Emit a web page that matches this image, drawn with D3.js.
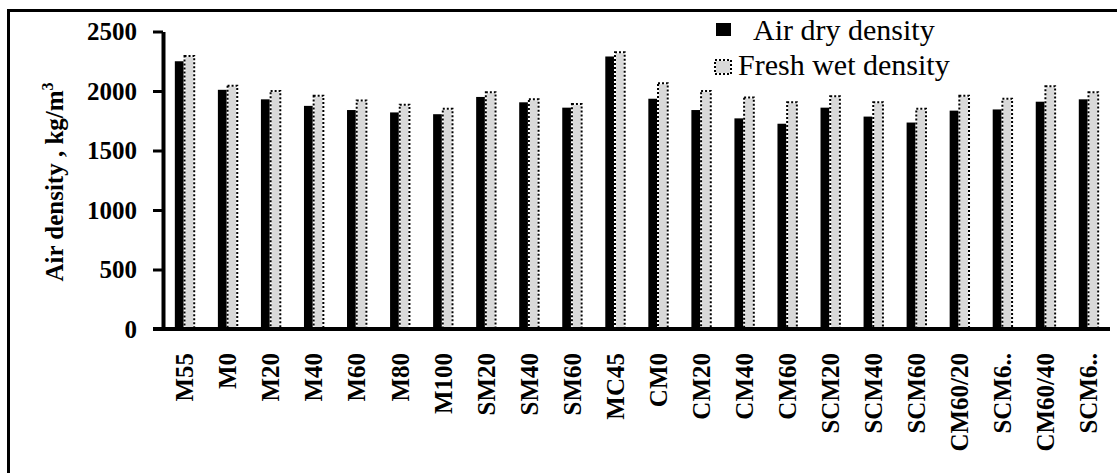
<!DOCTYPE html>
<html>
<head>
<meta charset="utf-8">
<script src="https://cdn.jsdelivr.net/npm/d3@7"></script>
<style>
  html, body { margin: 0; padding: 0; background: #fff; }
  svg { display: block; }
  text { font-family: "Liberation Serif", "Times New Roman", serif; fill: #000; }
</style>
</head>
<body>
<svg id="chart" width="1117" height="473"></svg>
<script>
// Mix designations
const categories = ["M55", "M0", "M20", "M40", "M60", "M80", "M100", "SM20", "SM40", "SM60",
  "MC45", "CM0", "CM20", "CM40", "CM60", "SCM20", "SCM40", "SCM60", "CM60/20", "SCM6..", "CM60/40", "SCM6.."];

// Densities, kg/m3
const airDry = [2250, 2010, 1930, 1875, 1840, 1820, 1805, 1950, 1905, 1860,
  2290, 1935, 1840, 1770, 1725, 1860, 1785, 1735, 1835, 1845, 1910, 1930];
const freshWet = [2295, 2045, 2000, 1960, 1920, 1885, 1850, 1990, 1930, 1890,
  2325, 2065, 2000, 1945, 1905, 1955, 1905, 1850, 1960, 1935, 2040, 1990];

const seriesNames = ["Air dry density", "Fresh wet density"];
const yTicks = [0, 500, 1000, 1500, 2000, 2500];

const serif = "'Liberation Serif', 'Times New Roman', serif";
const svg = d3.select("#chart");

// Outer frame (top and left edges)
svg.append("path")
  .attr("d", "M8.5,473 V10.5 H1117")
  .attr("fill", "none")
  .attr("stroke", "#000")
  .attr("stroke-width", 3);

const plotLeft = 163, plotRight = 1110, plotTop = 31.5, plotBottom = 329;

const x0 = d3.scaleBand()
  .domain(d3.range(categories.length))
  .range([plotLeft, plotRight])
  .paddingInner(0.55)
  .paddingOuter(0.275);

const x1 = d3.scaleBand()
  .domain(seriesNames)
  .range([0, x0.bandwidth()])
  .padding(0);

const y = d3.scaleLinear().domain([0, 2500]).range([plotBottom, plotTop]);

const rows = categories.map((c, i) => ({ i, c, values: [airDry[i], freshWet[i]] }));

const groups = svg.append("g").selectAll("g")
  .data(rows)
  .join("g")
  .attr("transform", d => `translate(${x0(d.i)},0)`);

// Air dry bars: solid black
groups.append("rect")
  .attr("x", x1(seriesNames[0]))
  .attr("y", d => y(d.values[0]))
  .attr("width", x1.bandwidth())
  .attr("height", d => y(0) - y(d.values[0]))
  .attr("fill", "#000");

// Fresh wet bars: light grey with a dotted outline
groups.append("rect")
  .attr("x", x1(seriesNames[1]))
  .attr("y", d => y(d.values[1]))
  .attr("width", x1.bandwidth())
  .attr("height", d => y(0) - y(d.values[1]))
  .attr("fill", "#d9d9d9")
  .attr("stroke", "#fff")
  .attr("stroke-width", 2);
groups.append("rect")
  .attr("x", x1(seriesNames[1]))
  .attr("y", d => y(d.values[1]))
  .attr("width", x1.bandwidth())
  .attr("height", d => y(0) - y(d.values[1]))
  .attr("fill", "none")
  .attr("stroke", "#000")
  .attr("stroke-width", 2)
  .attr("stroke-dasharray", "2 2");

// Y axis
const yAxis = svg.append("g")
  .attr("transform", `translate(${plotLeft},0)`)
  .call(d3.axisLeft(y).tickValues(yTicks).tickFormat(d3.format("d")).tickSize(10).tickSizeOuter(0).tickPadding(16));
yAxis.select(".domain").attr("stroke", "#000").attr("stroke-width", 4);
yAxis.selectAll(".tick line").attr("stroke", "#000").attr("stroke-width", 3);
yAxis.selectAll(".tick text")
  .style("font-family", serif)
  .attr("font-size", 25)
  .attr("font-weight", "bold")
  .attr("fill", "#000");

// X axis with vertical category labels
const xAxis = svg.append("g")
  .attr("transform", `translate(0,${plotBottom})`)
  .call(d3.axisBottom(x0).tickSize(0).tickSizeOuter(0).tickFormat(i => categories[i]));
xAxis.select(".domain").attr("stroke", "#000").attr("stroke-width", 4)
  .attr("d", `M${plotLeft - 10},0H${plotRight}`);
xAxis.selectAll(".tick text")
  .style("font-family", serif)
  .attr("font-size", 25)
  .attr("font-weight", "bold")
  .attr("fill", "#000")
  .attr("transform", "rotate(-90)")
  .attr("text-anchor", "end")
  .attr("x", -24)
  .attr("y", 0)
  .attr("dy", "0.35em");

// Y axis title
const yTitle = svg.append("text")
  .attr("transform", "translate(63,182) rotate(-90)")
  .attr("text-anchor", "middle")
  .style("font-family", serif)
  .attr("font-size", 25)
  .attr("font-weight", "bold");
yTitle.append("tspan").text("Air density , kg/m");
yTitle.append("tspan").attr("font-size", 16).attr("dy", -10).text("3");

// Legend
const legend = svg.append("g").style("font-family", serif);
legend.append("rect")
  .attr("x", 716).attr("y", 23).attr("width", 15).attr("height", 13)
  .attr("fill", "#000");
legend.append("text")
  .attr("x", 753).attr("y", 40)
  .attr("font-size", 30)
  .text(seriesNames[0]);
legend.append("rect")
  .attr("x", 715).attr("y", 60).attr("width", 16).attr("height", 14)
  .attr("fill", "#d9d9d9").attr("stroke", "#fff").attr("stroke-width", 2);
legend.append("rect")
  .attr("x", 715).attr("y", 60).attr("width", 16).attr("height", 14)
  .attr("fill", "none").attr("stroke", "#000").attr("stroke-width", 2)
  .attr("stroke-dasharray", "2 2");
legend.append("text")
  .attr("x", 738).attr("y", 75)
  .attr("font-size", 30)
  .text(seriesNames[1]);
</script>
</body>
</html>
